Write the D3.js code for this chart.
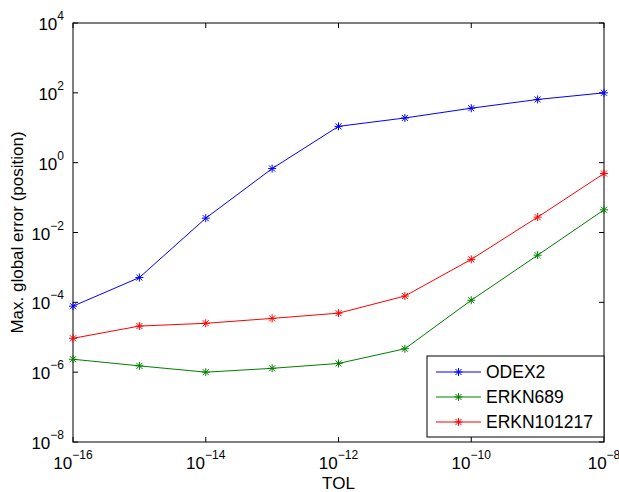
<!DOCTYPE html>
<html>
<head>
<meta charset="utf-8">
<script src="https://cdn.jsdelivr.net/npm/d3@7"></script>
<style>
  body { margin: 0; background: #fff; }
  svg { font-family: "Liberation Sans", Arial, sans-serif; }
</style>
</head>
<body>
<div id="chart"></div>
<script>
// tolerance exponents (x) and log10 of max global error per method
const tolExp = [-16, -15, -14, -13, -12, -11, -10, -9, -8];
const odex2 = [-4.11, -3.29, -1.59, -0.17, 1.04, 1.28, 1.56, 1.81, 2.0];
const erkn689 = [-5.63, -5.82, -6.0, -5.89, -5.75, -5.33, -3.94, -2.65, -1.35];
const erkn101217 = [-5.03, -4.68, -4.60, -4.46, -4.31, -3.82, -2.77, -1.56, -0.31];
const seriesNames = ["ODEX2", "ERKN689", "ERKN101217"];
const seriesColors = ["#0000ff", "#008000", "#ff0000"];
const xTickExp = [-16, -14, -12, -10, -8];
const yTickExp = [-8, -6, -4, -2, 0, 2, 4];

const w = 619, h = 492;
const padL = 73, padR = 604, padT = 23, padB = 442;

const svg = d3.select('#chart').append('svg')
  .attr('width', w).attr('height', h);

const x = d3.scaleLog().domain([1e-16, 1e-8]).range([padL, padR]);
const y = d3.scaleLog().domain([1e-8, 1e4]).range([padB, padT]);

// axis box
svg.append('rect')
  .attr('x', padL).attr('y', padT)
  .attr('width', padR - padL).attr('height', padB - padT)
  .attr('fill', 'none').attr('stroke', '#000').attr('stroke-width', 1);

// ticks pointing inward on all sides
const tickLen = 5;
xTickExp.forEach(e => {
  const px = x(Math.pow(10, e));
  svg.append('line').attr('x1', px).attr('x2', px).attr('y1', padB).attr('y2', padB - tickLen)
    .attr('stroke', '#000');
  svg.append('line').attr('x1', px).attr('x2', px).attr('y1', padT).attr('y2', padT + tickLen)
    .attr('stroke', '#000');
  const t = svg.append('text').attr('x', px).attr('y', padB + 27)
    .attr('text-anchor', 'middle').style('font-size', '17px');
  t.append('tspan').text('10');
  t.append('tspan').attr('dy', -10).style('font-size', '12px').text('\u2212' + (-e));
});
yTickExp.forEach(e => {
  const py = y(Math.pow(10, e));
  svg.append('line').attr('x1', padL).attr('x2', padL + tickLen).attr('y1', py).attr('y2', py)
    .attr('stroke', '#000');
  svg.append('line').attr('x1', padR).attr('x2', padR - tickLen).attr('y1', py).attr('y2', py)
    .attr('stroke', '#000');
  const t = svg.append('text').attr('x', 64).attr('y', py + 7)
    .attr('text-anchor', 'end').style('font-size', '17px');
  t.append('tspan').text('10');
  t.append('tspan').attr('dy', -10).style('font-size', '12px').text(e < 0 ? '\u2212' + (-e) : e);
});

// axis labels
svg.append('text').attr('x', (padL + padR) / 2).attr('y', 489)
  .attr('text-anchor', 'middle').style('font-size', '17px').text('TOL');
svg.append('text')
  .attr('transform', `translate(23, ${(padT + padB) / 2}) rotate(-90)`)
  .attr('text-anchor', 'middle').style('font-size', '17px')
  .text('Max. global error (position)');

// asterisk marker
const star = 'M-4,0L4,0M0,-4L0,4M-3,-3L3,3M-3,3L3,-3';

const allSeries = [odex2, erkn689, erkn101217];
const line = d3.line()
  .x((d, i) => x(Math.pow(10, tolExp[i])))
  .y(d => y(Math.pow(10, d)));

allSeries.forEach((vals, k) => {
  const g = svg.append('g');
  g.append('path').datum(vals).attr('d', line)
    .attr('fill', 'none').attr('stroke', seriesColors[k]).attr('stroke-width', 1);
  g.selectAll('path.m').data(vals).enter().append('path')
    .attr('class', 'm')
    .attr('transform', (d, i) => `translate(${x(Math.pow(10, tolExp[i]))},${y(Math.pow(10, d))})`)
    .attr('d', star).attr('stroke', seriesColors[k]).attr('stroke-width', 1).attr('fill', 'none');
});

// legend
const legend = svg.append('g');
legend.append('rect')
  .attr('x', 427).attr('y', 356).attr('width', 177).attr('height', 81)
  .attr('fill', '#fff').attr('stroke', '#000').attr('stroke-width', 1);
seriesNames.forEach((name, k) => {
  const ly = 372 + k * 25;
  legend.append('line').attr('x1', 436).attr('x2', 481).attr('y1', ly).attr('y2', ly)
    .attr('stroke', seriesColors[k]);
  legend.append('path').attr('transform', `translate(458.5,${ly})`).attr('d', star)
    .attr('stroke', seriesColors[k]).attr('fill', 'none');
  legend.append('text').attr('x', 486).attr('y', ly + 6)
    .style('font-size', '17.5px').text(name);
});
</script>
</body>
</html>
